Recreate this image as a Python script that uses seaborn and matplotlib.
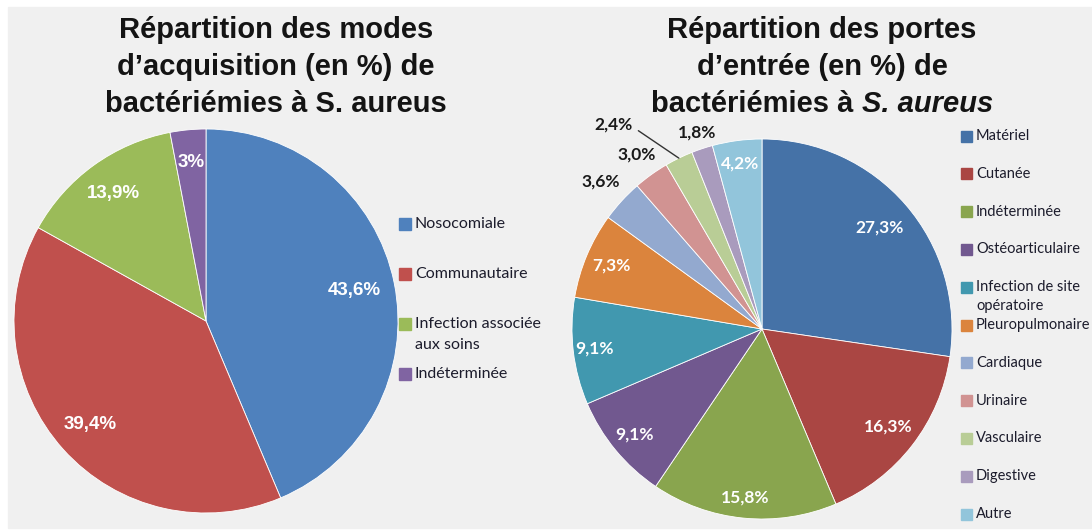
import numpy as np
import matplotlib
matplotlib.use("Agg")
import matplotlib.pyplot as plt
from matplotlib.patches import Rectangle
import seaborn as sns

# left pie: modes d'acquisition
acq_labels = ["Nosocomiale", "Communautaire", "Infection associée\naux soins", "Indéterminée"]
acq_values = [43.6, 39.4, 13.9, 3.0]
acq_text = ["43,6%", "39,4%", "13,9%", "3%"]
acq_colors = ["#4F81BD", "#C0504D", "#9BBB59", "#8064A2"]

# right pie: portes d'entrée
porte_labels = ["Matériel", "Cutanée", "Indéterminée", "Ostéoarticulaire",
                "Infection de site\nopératoire", "Pleuropulmonaire", "Cardiaque",
                "Urinaire", "Vasculaire", "Digestive", "Autre"]
porte_values = [27.3, 16.3, 15.8, 9.1, 9.1, 7.3, 3.6, 3.0, 2.4, 1.8, 4.2]
porte_text = ["27,3%", "16,3%", "15,8%", "9,1%", "9,1%", "7,3%", "3,6%",
              "3,0%", "2,4%", "1,8%", "4,2%"]
porte_colors = ["#4572A7", "#AA4643", "#89A54E", "#71588F", "#4198AF", "#DB843D",
                "#93A9CF", "#D19392", "#B9CD96", "#A99BBD", "#92C5DB"]

# label placement (radius, angle offset in degrees)
acq_pos = [(0.79, 0), (0.81, 0), (0.82, 0), (0.83, 0)]
porte_pos = [(0.82, 0), (0.84, 0), (0.89, 0), (0.87, 0), (0.89, 0), (0.86, 0),
             (1.15, 0), (1.13, 0), (1.33, 10), (1.09, 0), (0.88, 0)]

sns.set_theme(style="white")
plt.rcParams["font.family"] = ["Liberation Sans", "DejaVu Sans"]

W, H = 1092, 531
fig = plt.figure(figsize=(W / 100, H / 100), dpi=100, facecolor="white")
fig.patches.append(Rectangle((8 / W, 3 / H), 1 - 8 / W, 1 - 10 / H,
                             transform=fig.transFigure, color="#f0f0f0", zorder=-5))


def px(x, y):
    return x / W, 1 - y / H


def draw_pie(cx, cy, r, values, colors, texts, pos, fontsize, family):
    ax = fig.add_axes([(cx - r) / W, (H - cy - r) / H, 2 * r / W, 2 * r / H])
    ax.set_facecolor("none")
    wedges, _ = ax.pie(values, colors=colors, startangle=90, counterclock=False,
                       wedgeprops=dict(edgecolor="white", linewidth=0.6))
    ax.set_xlim(-1, 1)
    ax.set_ylim(-1, 1)
    ax.set_axis_off()
    for w, t, (rd, off) in zip(wedges, texts, pos):
        mid = np.deg2rad((w.theta1 + w.theta2) / 2)
        ang = mid + np.deg2rad(off)
        col = "white" if rd < 1 else "#1a1a1a"
        ax.text(rd * np.cos(ang), rd * np.sin(ang), t, ha="center", va="center",
                color=col, fontsize=fontsize, fontweight="bold", family=family,
                clip_on=False)
        if off:
            a0 = mid + np.deg2rad(off * 0.6)
            ax.plot([1.23 * np.cos(a0), np.cos(mid)], [1.23 * np.sin(a0), np.sin(mid)],
                    color="#333333", lw=1, clip_on=False)
    return ax


draw_pie(206, 321, 192, acq_values, acq_colors, acq_text, acq_pos, 13.5,
         ["Liberation Sans", "DejaVu Sans"])
draw_pie(762, 329, 190, porte_values, porte_colors, porte_text, porte_pos, 12.5,
         ["Lato", "DejaVu Sans"])


def draw_legend(x, y0, step, labels, colors, fontsize, sq, gap):
    for i, (lab, col) in enumerate(zip(labels, colors)):
        y = y0 + i * step
        fig.patches.append(Rectangle(px(x, y + sq / 2), sq / W, sq / H,
                                     transform=fig.transFigure, color=col, zorder=2))
        for j, line in enumerate(lab.split("\n")):
            fig.text(*px(x + sq + 4, y + j * gap), line, ha="left", va="center",
                     fontsize=fontsize, color="#1c1c2c", family=["Lato", "DejaVu Sans"])


draw_legend(399, 224, 50, acq_labels, acq_colors, 11.5, 12, 21)
draw_legend(961, 136, 37.8, porte_labels, porte_colors, 10.5, 11, 19)

# titles
title_kw = dict(ha="center", va="baseline", fontsize=21, fontweight="bold", color="#141414")
for i, line in enumerate(["Répartition des modes", "d’acquisition (en %) de",
                          "bactériémies à S. aureus"]):
    fig.text(*px(276, 38 + 37 * i), line, **title_kw)
for i, line in enumerate(["Répartition des portes", "d’entrée (en %) de"]):
    fig.text(*px(822, 38 + 37 * i), line, **title_kw)

# last line with italic species name
renderer = fig.canvas.get_renderer()
t1 = fig.text(0, 0, "bactériémies à", **{**title_kw, "ha": "left"})
t2 = fig.text(0, 0, "S. aureus", style="italic", **{**title_kw, "ha": "left"})
sp = fig.text(0, 0, "a a", **{**title_kw, "ha": "left"})
spa = fig.text(0, 0, "aa", **{**title_kw, "ha": "left"})
w1 = t1.get_window_extent(renderer).width
w2 = t2.get_window_extent(renderer).width
wsp = sp.get_window_extent(renderer).width - spa.get_window_extent(renderer).width
sp.remove()
spa.remove()
x0 = 822 - (w1 + wsp + w2) / 2
t1.set_position(px(x0, 112))
t2.set_position(px(x0 + w1 + wsp, 112))

fig.savefig("out.png", dpi=100, facecolor=fig.get_facecolor())
